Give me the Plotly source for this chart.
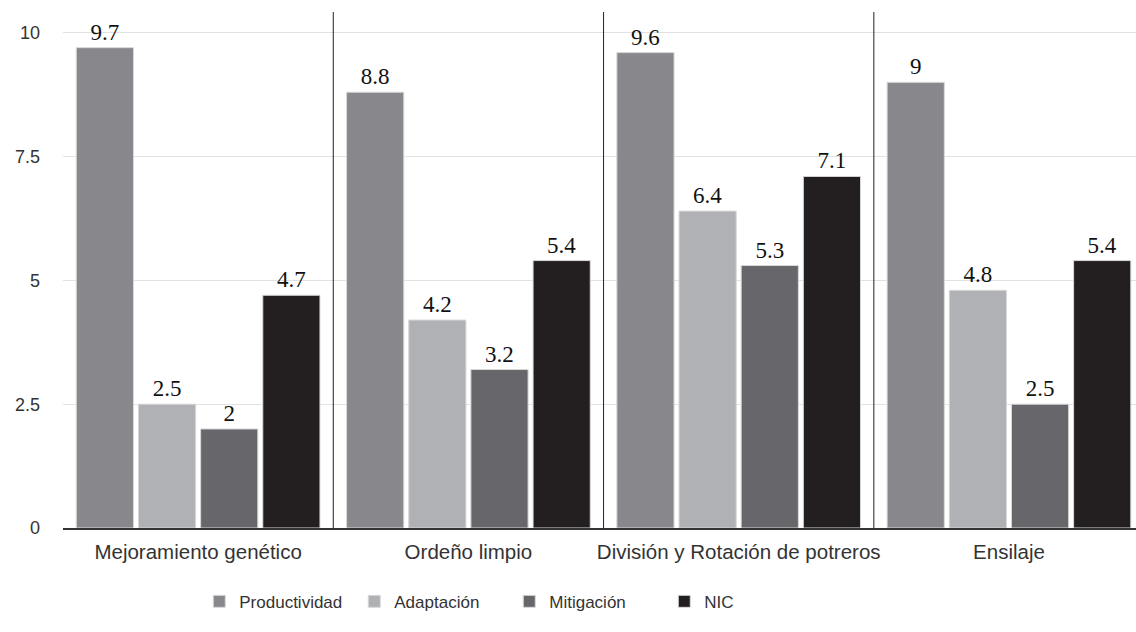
import plotly.graph_objects as go

categories = ["Mejoramiento genético", "Ordeño limpio",
              "División y Rotación de potreros", "Ensilaje"]
productividad = [9.7, 8.8, 9.6, 9]
adaptacion = [2.5, 4.2, 6.4, 4.8]
mitigacion = [2, 3.2, 5.3, 2.5]
nic = [4.7, 5.4, 7.1, 5.4]

series = [
    ("Productividad", productividad, "#88888c"),
    ("Adaptación", adaptacion, "#b0b1b4"),
    ("Mitigación", mitigacion, "#67676b"),
    ("NIC", nic, "#231f20"),
]

fig = go.Figure()
for name, vals, color in series:
    fig.add_trace(go.Bar(
        name=name, x=categories, y=vals,
        marker=dict(color=color, line=dict(color="#d8d8d8", width=1)),
        text=[f"{v:g}" for v in vals], textposition="outside",
        textfont=dict(family="Liberation Serif", size=23, color="#111"),
        cliponaxis=False,
    ))

# vertical separators between categories
for i in range(1, len(categories)):
    fig.add_shape(type="line", xref="x", yref="paper",
                  x0=i - 0.5, x1=i - 0.5, y0=0, y1=1.0,
                  line=dict(color="#222", width=1))

fig.update_layout(
    width=1136, height=632,
    margin=dict(l=63, r=0, t=12, b=104),
    paper_bgcolor="white", plot_bgcolor="white",
    barmode="group", bargap=0.08, bargroupgap=0.08,
    font=dict(family="Liberation Sans, Arial", size=18, color="#333"),
    xaxis=dict(range=[-0.5, 3.47], showgrid=False, ticks="",
               showline=True, linecolor="#333", linewidth=2,
               ticklabelstandoff=4,
               tickfont=dict(size=20.5, color="#333")),
    yaxis=dict(range=[0, 10.42], tickvals=[0, 2.5, 5, 7.5, 10],
               ticktext=["0", "2.5", "5", "7.5", "10"],
               showgrid=True, gridcolor="#e2e2e2", gridwidth=1,
               zeroline=False, ticks="", ticklabelstandoff=22,
               tickfont=dict(size=18, color="#333")),
    legend=dict(orientation="h", x=0.127, y=-0.143, xanchor="left",
                yanchor="middle", entrywidth=110, entrywidthmode="pixels",
                font=dict(size=17, color="#333"), traceorder="normal"),
    showlegend=True,
)

fig.write_html("out.html")
